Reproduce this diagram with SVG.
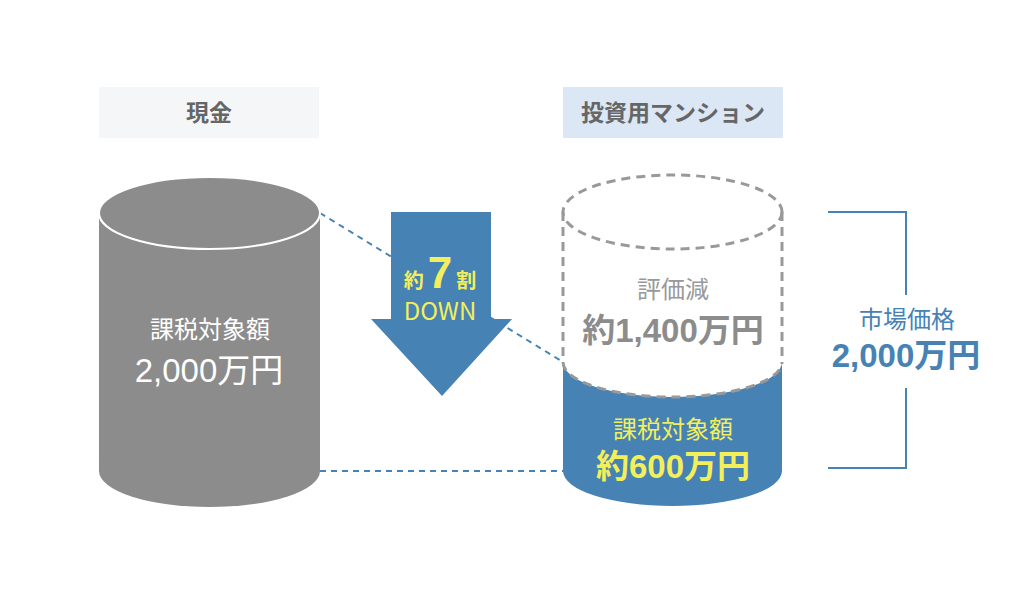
<svg xmlns="http://www.w3.org/2000/svg" width="1024" height="609" viewBox="0 0 1024 609">
<style>
text{font-family:"Noto Sans CJK JP","Noto Sans",sans-serif;text-anchor:middle}
.hd{font-size:23px;font-weight:700;fill:#666}
.lb{font-size:24px;font-weight:400}
.big{font-family:"Liberation Sans","Noto Sans CJK JP",sans-serif;font-size:33px;font-weight:700}
.conn{fill:none;stroke:#4682b4;stroke-width:2;stroke-dasharray:6 5}
.gd{fill:none;stroke:#999;stroke-width:3;stroke-dasharray:9 6}
</style>
<rect width="1024" height="609" fill="#fff"/>
<g id="connectors">
<line class="conn" x1="320" y1="213" x2="563" y2="362"/>
<line class="conn" x1="320" y1="471" x2="563" y2="471"/>
</g>
<g id="header-cash">
<rect x="99" y="87" width="220" height="51" fill="#f5f6f8"/>
<text class="hd" x="209" y="121">現金</text>
</g>
<g id="header-mansion">
<rect x="563" y="87" width="220" height="51" fill="#dbe7f4"/>
<text class="hd" x="673" y="121">投資用マンション</text>
</g>
<g id="cash-cylinder">
<rect x="99" y="213" width="221" height="258" fill="#8c8c8c"/>
<ellipse cx="209.5" cy="471" rx="110.5" ry="36" fill="#8c8c8c"/>
<ellipse cx="209.5" cy="213" rx="110.5" ry="36" fill="#8c8c8c" stroke="#fff" stroke-width="2"/>
<text class="lb" x="210" y="338" fill="#fff">課税対象額</text>
<text class="big" x="209" y="382" fill="#fff" style="font-weight:400">2,000万円</text>
</g>
<g id="down-arrow">
<polygon points="391,212 491,212 491,319 512,319 442,396 371,319 391,319" fill="#4682b4"/>
<text x="440" y="288" font-size="20" font-weight="700" fill="#f3ef5b">約<tspan dx="4" font-family="Liberation Sans, sans-serif" font-size="44">7</tspan><tspan dx="4">割</tspan></text>
<text x="440" y="320" font-family="Liberation Sans, sans-serif" font-size="24" fill="#f3ef5b">DOWN</text>
</g>
<g id="mansion-cylinder">
<path d="M563,362 A109.5,35 0 0 0 782,362 L782,471 A109.5,35 0 0 1 563,471 Z" fill="#4682b4"/>
<ellipse class="gd" cx="672.5" cy="212" rx="109.5" ry="37"/>
<line class="gd" x1="563" y1="212" x2="563" y2="362"/>
<line class="gd" x1="782" y1="212" x2="782" y2="362"/>
<path class="gd" d="M563,362 A109.5,35 0 0 0 782,362"/>
<text class="lb" x="673" y="298" fill="#999">評価減</text>
<text class="big" x="673" y="342" fill="#8c8c8c">約1,400万円</text>
<text class="lb" x="673" y="438" fill="#f3ef5b">課税対象額</text>
<text class="big" x="673" y="478" fill="#f3ef5b">約600万円</text>
</g>
<g id="market-price">
<polyline points="828,212 906,212 906,295" fill="none" stroke="#4682b4" stroke-width="2"/>
<polyline points="906,388 906,468 828,468" fill="none" stroke="#4682b4" stroke-width="2"/>
<text class="lb" x="907" y="328" fill="#4682b4">市場価格</text>
<text class="big" x="906" y="367" fill="#4682b4">2,000万円</text>
</g>
</svg>
